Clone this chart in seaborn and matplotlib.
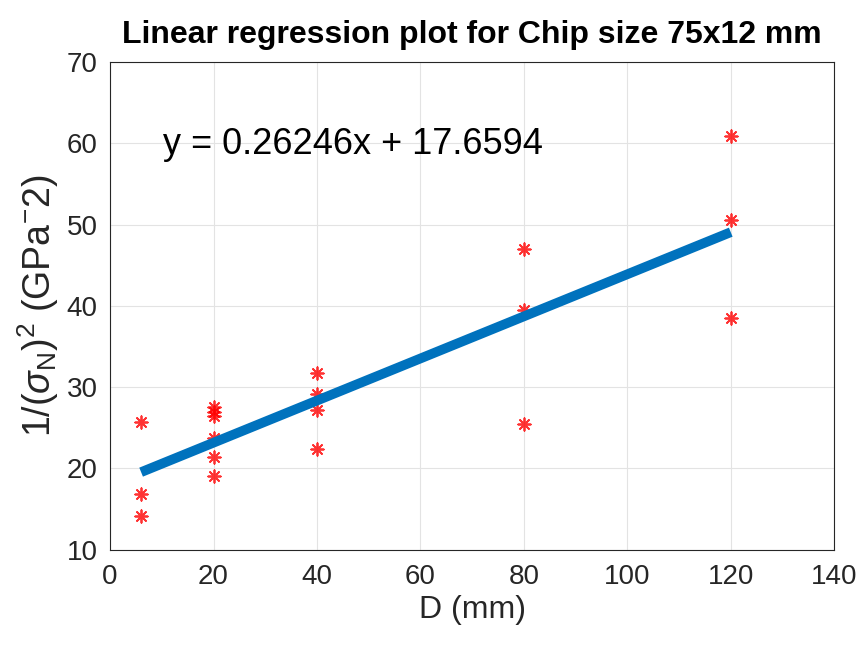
import matplotlib
matplotlib.use("Agg")
import matplotlib.pyplot as plt
import seaborn as sns
import pandas as pd

# data
d_mm = [6, 6, 6,
        20, 20, 20, 20, 20, 20,
        40, 40, 40, 40,
        80, 80, 80,
        120, 120, 120]
inv_sigma2 = [25.7, 16.9, 14.2,
              27.5, 27.0, 26.4, 23.7, 21.4, 19.1,
              31.7, 29.2, 27.2, 22.4,
              47.0, 39.5, 25.5,
              60.9, 50.6, 38.5]
eq_text = "y = 0.26246x + 17.6594"

df = pd.DataFrame({"D": d_mm, "y": inv_sigma2})

sns.set_theme(style="whitegrid")
plt.rcParams['font.family'] = ['Liberation Sans', 'DejaVu Sans']
plt.rcParams['mathtext.fontset'] = 'custom'
plt.rcParams['mathtext.rm'] = 'Liberation Sans'
plt.rcParams['mathtext.it'] = 'Liberation Sans:italic'

fig = plt.figure(figsize=(8.6, 6.46), dpi=100)
ax = fig.add_axes([0.128, 0.149, 0.842, 0.755])

sns.regplot(data=df, x="D", y="y", ax=ax, ci=None,
            marker=(8, 2, 0),
            scatter_kws=dict(color="red", s=80, linewidths=1.3),
            line_kws=dict(color="#0072BD", lw=7, solid_capstyle="butt"))

ax.set_xlim(0, 140)
ax.set_ylim(10, 70)
ax.set_xticks(range(0, 141, 20))
ax.set_yticks(range(10, 71, 10))
ax.tick_params(direction="in", labelsize=20, length=5, colors="#262626",
               labelcolor="#262626")
ax.tick_params(axis="x", pad=10)
ax.tick_params(axis="y", pad=9)
ax.grid(color="#e3e3e3", lw=0.8)
for s in ax.spines.values():
    s.set_color("#262626")
    s.set_linewidth(0.8)

ax.set_xlabel("D (mm)", fontsize=23, color="#262626", labelpad=4)
ax.set_ylabel(r"1/($\sigma_{\rm N}$)$^2$ (GPa$^{-}$2)", fontsize=27,
              color="#262626", labelpad=4)
ax.set_title("Linear regression plot for Chip size 75x12 mm",
             fontsize=23, fontweight="bold", color="black", pad=14)
ax.text(10.2, 59.8, eq_text, fontsize=26, color="black", va="center")

fig.savefig("out.png", dpi=100)
